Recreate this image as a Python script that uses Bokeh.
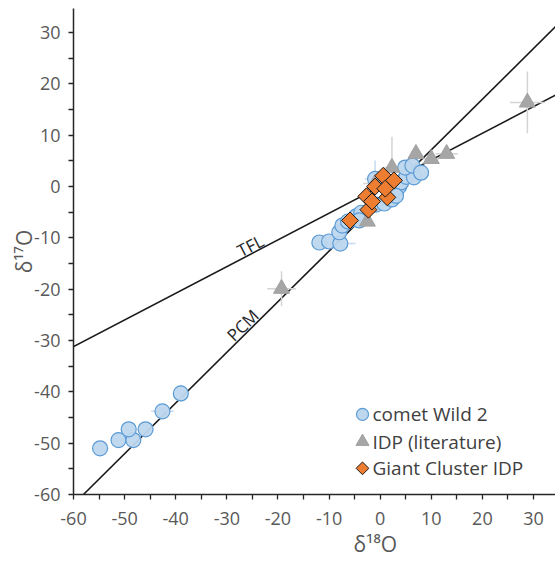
from bokeh.plotting import figure
from bokeh.models import Slope, Title, FixedTicker
from bokeh.core.properties import value
from bokeh.embed import file_html
from bokeh.resources import INLINE
import numpy as np

# ---- data ----
comet_d18O = [-54.8, -51.2, -48.3, -49.2, -45.9, -42.6, -39.0,
              -11.9, -10.0, -7.8, -8.0, -7.4, -6.3, -4.7, -3.7, -4.1,
              -0.8, 0.8, 2.3, 2.7, 3.7, 4.1, 5.1, 6.6, 4.9, 6.3, 8.0, 3.1, -1.0]
comet_d17O = [-51.0, -49.4, -49.4, -47.3, -47.3, -43.8, -40.3,
              -10.9, -10.7, -11.1, -8.9, -7.6, -6.8, -5.8, -5.1, -6.6,
              -3.5, -3.3, -2.5, -0.8, 0.0, 0.8, 1.9, 1.8, 3.7, 4.1, 2.7, -1.8, 1.5]
comet_err18 = [0.0, 1.5, 0.0, 0.0, 0.0, 2.2, 0.5,
               0.0, 0.0, 3.0, 0.0, 0.0, 0.0, 0.0, 0.0, 0.0,
               0.0, 0.0, 0.0, 0.0, 0.0, 0.0, 0.0, 0.0, 0.0, 0.0, 0.0, 0.0, 2.0]
comet_err17 = [0.0, 0.0, 0.0, 0.0, 0.0, 0.5, 1.7,
               0.0, 0.0, 0.5, 0.0, 0.0, 0.0, 0.0, 0.0, 0.0,
               0.0, 0.0, 0.0, 0.0, 0.0, 0.0, 0.0, 0.0, 0.0, 0.0, 0.0, 0.0, 3.6]

idp_d18O = [-19.3, -2.5, -1.0, 2.3, 7.0, 10.0, 13.0, 28.8]
idp_d17O = [-19.9, -6.8, 0.6, 3.7, 6.4, 5.4, 6.4, 16.4]
idp_err18 = [2.8, 0.0, 2.3, 1.5, 0.0, 1.5, 2.2, 3.4]
idp_err17 = [3.4, 0.0, 0.0, 6.0, 0.0, 0.0, 0.0, 6.0]

gc_d18O = [-5.9, -2.3, -2.7, -1.0, 0.6, 2.7, 1.4, 1.0, -1.6]
gc_d17O = [-6.6, -4.5, -1.9, 0.0, 2.1, 1.2, -2.1, -0.4, -2.9]

line_names = ["TFL", "PCM"]
line_slopes = [0.52, 0.987]
line_intercepts = [0.0, -2.70]

x_ticks = [-60, -50, -40, -30, -20, -10, 0, 10, 20, 30]
y_ticks = [-60, -50, -40, -30, -20, -10, 0, 10, 20, 30]

series_names = ["comet Wild 2", "IDP (literature)", "Giant Cluster IDP"]

# ---- styling / layout constants ----
FONT = "Open Sans"
TICK_COLOR = "#595959"
COMET_FILL, COMET_LINE = "#BDD7EE", "#5B9BD5"
IDP_FILL, IDP_LINE = "#A6A6A6", "#A0A0A0"
GC_FILL, GC_LINE = "#ED7D31", "#1a1a1a"

label_pos_x = [-25.4, -26.9]     # line-label anchors (data units)
label_pos_y = [-11.5, -27.0]
leg_marker_x = -3.46
leg_text_x = -1.5
leg_rows_y = [-44.4, -49.7, -54.9]

p = figure(width=555, height=562, output_backend="svg", toolbar_location=None,
           x_range=(-60, 34.3), y_range=(-60, 34.7),
           min_border_left=73, min_border_right=0, min_border_top=8,
           min_border_bottom=68)
p.outline_line_color = None
p.xgrid.visible = False
p.ygrid.visible = False
p.background_fill_color = "white"

for ax, ticks in ((p.xaxis[0], x_ticks), (p.yaxis[0], y_ticks)):
    ax.ticker = FixedTicker(ticks=ticks,
                            minor_ticks=[t + 5 for t in ticks])
    ax.major_label_overrides = {t: str(t) for t in ticks}
    ax.axis_line_color = "#262626"
    ax.axis_line_width = 1.5
    ax.major_tick_line_color = "#262626"
    ax.minor_tick_line_color = "#262626"
    ax.major_tick_line_width = 1.3
    ax.minor_tick_line_width = 1.3
    ax.major_tick_in = 0
    ax.major_tick_out = 5
    ax.minor_tick_in = 0
    ax.minor_tick_out = 5
    ax.major_label_text_font = FONT
    ax.major_label_text_font_size = "18px"
    ax.major_label_text_color = TICK_COLOR
    ax.axis_label_text_font = FONT
    ax.axis_label_text_font_size = "21px"
    ax.axis_label_text_font_style = "normal"
    ax.axis_label_text_color = TICK_COLOR

p.yaxis[0].axis_label = "δ¹⁷O"
p.xaxis[0].major_label_standoff = 12
p.yaxis[0].major_label_standoff = 8
p.yaxis[0].axis_label_standoff = -7

# x-axis title (placed under the zero of the axis, as in the reference)
p.add_layout(Title(text="δ¹⁸O", align="left", offset=280, standoff=1,
                   text_font=FONT, text_font_size="21px", text_font_style="normal",
                   text_color=TICK_COLOR), "below")

# reference lines
for s, b in zip(line_slopes, line_intercepts):
    p.add_layout(Slope(gradient=s, y_intercept=b, line_color="#1a1a1a",
                       line_width=1.6, level="underlay"))

lab_ang = [float(np.degrees(np.arctan(s))) for s in line_slopes]
p.text(x=label_pos_x, y=label_pos_y, text=line_names, angle=lab_ang, angle_units="deg",
       text_font=value(FONT), text_font_size="17px", text_color="#262626",
       text_align="center", text_baseline="alphabetic")

# error bars
def errbars(xs, ys, ex, ey, color):
    x = np.array(xs); y = np.array(ys); ex = np.array(ex); ey = np.array(ey)
    p.segment(x0=x - ex, x1=x + ex, y0=y, y1=y, line_color=color, line_width=1.5)
    p.segment(x0=x, x1=x, y0=y - ey, y1=y + ey, line_color=color, line_width=1.5)

errbars(idp_d18O, idp_d17O, idp_err18, idp_err17, "#D4D4D4")
errbars(comet_d18O, comet_d17O, comet_err18, comet_err17, "#C5D9F1")

p.scatter(comet_d18O, comet_d17O, marker="circle", size=15,
          fill_color=COMET_FILL, fill_alpha=0.95, line_color=COMET_LINE, line_width=1.2)
p.scatter(idp_d18O, idp_d17O, marker="triangle", size=16,
          fill_color=IDP_FILL, line_color=IDP_LINE, line_width=1)
p.scatter(gc_d18O, gc_d17O, marker="square", size=12, angle=np.pi / 4,
          fill_color=GC_FILL, line_color=GC_LINE, line_width=1)

# legend (markers + labels)
p.scatter([leg_marker_x], [leg_rows_y[0]], marker="circle", size=12,
          fill_color=COMET_FILL, line_color=COMET_LINE, line_width=1.2)
p.scatter([leg_marker_x], [leg_rows_y[1]], marker="triangle", size=13,
          fill_color=IDP_FILL, line_color=IDP_LINE, line_width=1)
p.scatter([leg_marker_x], [leg_rows_y[2]], marker="square", size=9, angle=np.pi / 4,
          fill_color=GC_FILL, line_color=GC_LINE, line_width=1)
p.text(x=[leg_text_x] * 3, y=leg_rows_y, text=series_names,
       text_font=value(FONT), text_font_size="19px", text_color="#404040",
       text_align="left", text_baseline="middle")

open("out.html", "w").write(file_html(p, INLINE))
